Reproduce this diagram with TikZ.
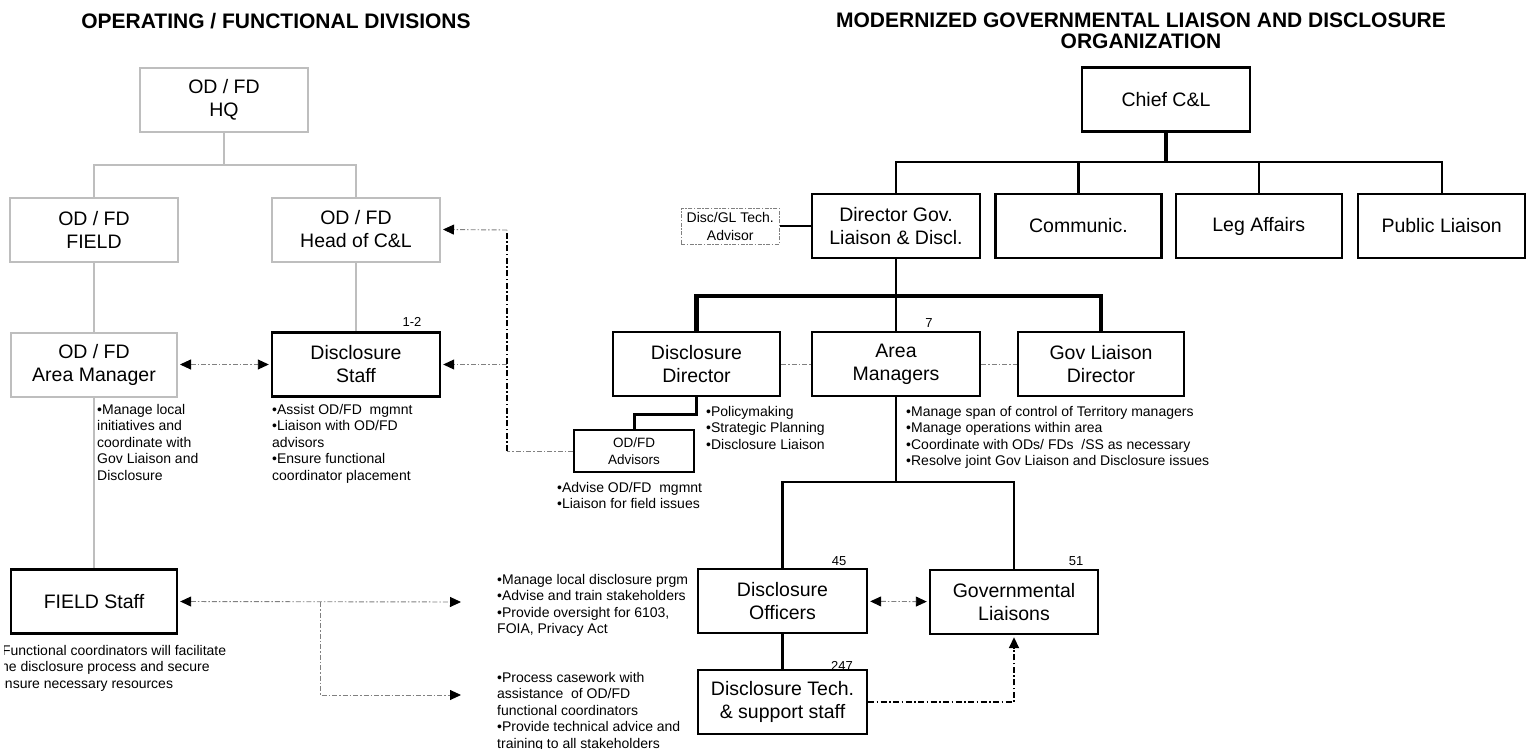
\documentclass[tikz,border=0pt]{standalone}
\usepackage{fontspec}
\setmainfont{Liberation Sans}
\usetikzlibrary{arrows.meta,positioning,calc}

\definecolor{odgray}{HTML}{BEBEBE}

\begin{document}
\begin{tikzpicture}[
    x=1pt, y=-1pt,
    box/.style={rectangle, draw, line width=2.4pt, fill=white, minimum width=168pt, minimum height=64pt, align=center, inner sep=2pt, font=\fontsize{19.5}{23}\selectfont},
    odbox/.style={box, draw=odgray, line width=2pt},
    smallbox/.style={box, line width=2pt, minimum width=120pt, minimum height=42pt, font=\fontsize{13.5}{17}\selectfont},
    techbox/.style={rectangle, draw=gray, line width=1pt, dash pattern=on 4pt off 1.5pt on 1.5pt off 1.5pt, minimum width=98pt, minimum height=36pt, inner sep=1pt, align=center, font=\fontsize{14}{18}\selectfont},
    bullets/.style={anchor=north west, inner sep=0pt, align=left, font=\fontsize{14}{16.5}\selectfont},
    numlabel/.style={inner sep=0pt, font=\fontsize{13}{15}\selectfont},
    headline/.style={align=center, font=\fontsize{21}{21}\selectfont\bfseries},
    odline/.style={draw=odgray, line width=2pt},
    solidlink/.style={line width=2.4pt},
    heavy/.style={line width=4.5pt},
    dotlink/.style={draw=gray, line width=0.9pt, dash pattern=on 5pt off 2pt on 1.5pt off 2pt},
    dashlink/.style={line width=1.8pt, dash pattern=on 6pt off 2.5pt on 1.5pt off 2.5pt},
    arr/.style={-{Triangle[length=11pt,width=10pt,color=black]}, shorten >=2pt},
    biarr/.style={{Triangle[length=11pt,width=10pt,color=black]}-{Triangle[length=11pt,width=10pt,color=black]}, shorten >=2pt, shorten <=2pt}
]
\useasboundingbox (0,0) rectangle (1529,749);

% titles
\node[headline] (lefttitle) at (276,21) {OPERATING / FUNCTIONAL DIVISIONS};
\node[headline] (righttitle) at (1141,31) {MODERNIZED GOVERNMENTAL LIAISON AND DISCLOSURE\\ORGANIZATION};

% operating / functional divisions
\node[odbox] (hq) at (224,100) {OD / FD\\HQ};
\node[odbox] (field) at (94,229.5) {OD / FD\\FIELD};
\node[odbox] (headcl) at (356,229.5) {OD / FD\\Head of C\&L};
\node[odbox, minimum width=166pt] (areamgr) at (94,364.5) {OD / FD\\Area Manager};
\node[box] (dstaff) at (356,364.5) {Disclosure\\Staff};
\node[box, minimum width=166pt] (fstaff) at (94,601.5) {FIELD Staff};

\coordinate (hqbar) at (224,165);
\draw[odline] (hq) -- (hqbar);
\draw[odline] (field.north) |- (hqbar) -| (headcl.north);
\draw[odline] (field) -- (areamgr);
\draw[odline] (areamgr) -- (fstaff);
\draw[odline] (headcl) -- (dstaff);

\node[numlabel] (n12) at (412,322) {1-2};
\node[bullets] (amnotes) at (97,404) {•Manage local\\initiatives and\\coordinate with\\Gov Liaison and\\Disclosure};
\node[bullets] (dsnotes) at (272,404) {•Assist OD/FD\ \ mgmnt\\•Liaison with OD/FD\\advisors\\•Ensure functional\\coordinator placement};
\begin{scope}
\clip (4.5,636) rectangle (300,700);
\node[bullets] (fsnotes) at (-3,645) {•Functional coordinators will facilitate\\the disclosure process and secure\\ensure necessary resources};
\end{scope}

\draw[dotlink, biarr] (areamgr.east) -- (dstaff.west);

\coordinate (fsup) at (463,602);
\coordinate (fslow) at (463,695);
\coordinate (fsfork) at (320,602);
\draw[dotlink, biarr] (fstaff.east) -- (fsup);
\draw[dotlink, arr] (fsfork) |- (fslow);

\node[bullets] (oversight) at (497,574) {•Manage local disclosure prgm\\•Advise and train stakeholders\\•Provide oversight for 6103,\\FOIA, Privacy Act};
\node[bullets] (casework) at (497,672) {•Process casework with\\assistance\ \ of OD/FD\\functional coordinators\\•Provide technical advice and\\training to all stakeholders};

% governmental liaison and disclosure
\node[box] (chief) at (1166,99.5) {Chief C\&L};
\node[box] (dirgov) at (896,226) {Director Gov.\\Liaison \& Discl.};
\node[box, minimum width=166pt, right=13pt of dirgov] (communic) {Communic.};
\node[box, minimum width=166pt, right=12pt of communic] (legaff) {Leg Affairs};
\node[box, minimum width=167pt, right=14pt of legaff] (publiai) {Public Liaison};
\node[techbox, left=31pt of dirgov] (techadv) {Disc/GL Tech.\\Advisor};
\draw[solidlink] (techadv) -- (dirgov);

\coordinate (chiefbar) at (1166,162);
\draw[heavy] (chief) -- (chiefbar);
\draw[solidlink] (dirgov.north) |- (chiefbar) -| (publiai.north);
\draw[solidlink] (communic.north) -- (communic.north |- chiefbar);
\draw[solidlink] (legaff.north) -- (legaff.north |- chiefbar);

\node[box, minimum width=167pt] (ddir) at (696.5,364) {Disclosure\\Director};
\node[box] (amgrs) at (896,364) {Area\\Managers};
\node[box, minimum width=166pt] (gldir) at (1101,364) {Gov Liaison\\Director};
\coordinate (dirbar) at (896,296);
\draw[solidlink, line width=1.8pt] (dirgov) -- (amgrs);
\draw[heavy] (ddir.north) |- (dirbar) -| (gldir.north);
\draw[dotlink] (ddir) -- (amgrs);
\draw[dotlink] (amgrs) -- (gldir);
\node[numlabel] (n7) at (929,323) {7};

\node[smallbox] (advisors) at (634,451) {OD/FD\\Advisors};
\draw[solidlink, line width=3pt] (ddir.south) -- ++(0,17) -| (advisors.north);
\node[bullets] (ddnotes) at (706,406) {•Policymaking\\•Strategic Planning\\•Disclosure Liaison};
\node[bullets] (advnotes) at (557,482) {•Advise OD/FD\ \ mgmnt\\•Liaison for field issues};
\node[bullets] (amgrnotes) at (906,406) {•Manage span of control of Territory managers\\•Manage operations within area\\•Coordinate with ODs/ FDs\ \ /SS as necessary\\•Resolve joint Gov Liaison and Disclosure issues};

\coordinate (advup) at (507,230);
\draw[dotlink] (advisors.west) -- (advisors.west -| advup);
\draw[dashlink] (advisors.west -| advup) -- (advup);
\draw[dotlink, arr] (advup) -- (headcl.east);
\draw[dotlink, arr] (advup |- dstaff.east) -- (dstaff.east);

\coordinate (ambar) at (896,482);
\node[box, minimum width=169pt] (dofficers) at (782.5,601) {Disclosure\\Officers};
\node[box] (govlia) at (1014,602) {Governmental\\Liaisons};
\draw[solidlink] (amgrs) -- (ambar);
\draw[solidlink] (dofficers.north) |- (ambar) -| (govlia.north);
\node[numlabel] (n45) at (839,561) {45};
\node[numlabel] (n51) at (1076,561) {51};
\draw[dotlink, biarr] (dofficers) -- (govlia);

\node[numlabel] (n247) at (842,666) {247};
\node[box, minimum width=169pt] (techstaff) at (782.5,702) {Disclosure Tech.\\\& support staff};
\draw[solidlink] (dofficers) -- (techstaff);
\draw[dashlink, arr] (techstaff.east) -| (govlia.south);
\end{tikzpicture}
\end{document}
